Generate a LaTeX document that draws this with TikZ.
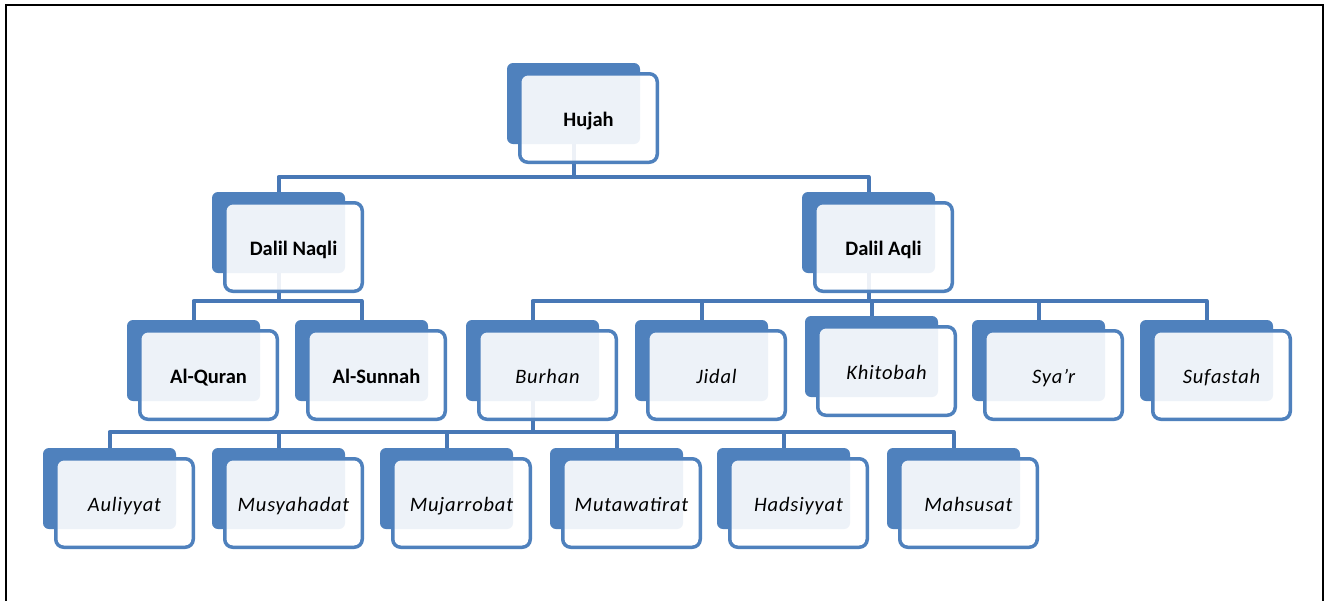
\documentclass[tikz,border=0pt]{standalone}
\usepackage{fontspec}
\setmainfont{Carlito}
\usetikzlibrary{calc}
\definecolor{sablue}{RGB}{79,129,189}
\definecolor{connblue}{RGB}{72,120,182}
\pgfdeclarelayer{bg}
\pgfsetlayers{bg,main}
\tikzset{
  backbox/.style={rectangle, rounded corners=6pt, fill=sablue, minimum width=133pt, minimum height=81pt, inner sep=0pt},
  frontbox/.style={rectangle, rounded corners=8pt, draw=sablue, line width=3.5pt, fill=white, fill opacity=0.9, text opacity=1, minimum width=137.5pt, minimum height=88.5pt, inner sep=0pt, text height=20pt, text depth=3pt, font=\fontsize{20}{24}\selectfont},
  strong/.style={font=\fontsize{20.5}{24}\selectfont\bfseries},
  slant/.style={font=\fontsize{20.5}{24}\selectfont\itshape\addfontfeature{LetterSpace=4}},
  conn/.style={draw=connblue, line width=4pt, line join=round},
  frame/.style={draw=black, line width=2pt}
}
\newcommand\mkunit[5]{%
  \node[backbox] (#1B) at ({#2+66.5},{#3+40.5}) {};
  \node[frontbox,#5] (#1) at ({#2+81.5},{#3+55}) {#4};
}
\begin{document}
\begin{tikzpicture}[x=1pt,y=-1pt]
\useasboundingbox (0,0) rectangle (1324,600);
\draw[frame] (6,601) -- (6,5) -- (1323,5) -- (1323,601);

% row 1
\mkunit{hujah}{507}{63}{Hujah}{strong}
% row 2
\mkunit{naqli}{212}{192}{Dalil Naqli}{strong}
\mkunit{aqli}{802}{192}{Dalil Aqli}{strong}
% row 3
\mkunit{quran}{127}{320}{Al-Quran}{strong}
\mkunit{sunnah}{295}{320}{Al-Sunnah}{strong}
\mkunit{burhan}{466}{320}{Burhan}{slant}
\mkunit{jidal}{635}{320}{Jidal}{slant}
\mkunit{khitobah}{805}{316}{Khitobah}{slant}
\mkunit{syar}{972}{320}{Sya'r}{slant}
\mkunit{sufastah}{1140}{320}{Sufastah}{slant}
% row 4
\mkunit{auliyyat}{43}{448}{Auliyyat}{slant}
\mkunit{musyahadat}{212}{448}{Musyahadat}{slant}
\mkunit{mujarrobat}{380}{448}{Mujarrobat}{slant}
\mkunit{mutawatirat}{550}{448}{Mutawatirat}{slant}
\mkunit{hadsiyyat}{717}{448}{Hadsiyyat}{slant}
\mkunit{mahsusat}{887}{448}{Mahsusat}{slant}

\coordinate (bus1) at (573.5,177);
\coordinate (bus2) at (278.5,301);
\coordinate (bus3) at (868.5,301);
\coordinate (bus4) at (532.5,432);

\begin{pgfonlayer}{bg}
  \fill[white] (0,0) rectangle (1324,600);
  \draw[conn] (hujahB.south) -- (hujahB.south |- bus1);
  \draw[conn] (naqliB.north) |- (bus1) -| (aqliB.north);

  \draw[conn] (naqliB.south) -- (naqliB.south |- bus2);
  \draw[conn] (quranB.north) |- (bus2) -| (sunnahB.north);

  \draw[conn] (aqliB.south) -- (aqliB.south |- bus3);
  \draw[conn] (burhanB.north) |- (bus3) -| (sufastahB.north);
  \draw[conn] (jidalB.north) -- (jidalB.north |- bus3);
  \draw[conn] (khitobahB.north) -- (khitobahB.north |- bus3);
  \draw[conn] (syarB.north) -- (syarB.north |- bus3);

  \draw[conn] (burhanB.south) -- (burhanB.south |- bus4);
  \draw[conn] (auliyyatB.north) |- (bus4) -| (mahsusatB.north);
  \draw[conn] (musyahadatB.north) -- (musyahadatB.north |- bus4);
  \draw[conn] (mujarrobatB.north) -- (mujarrobatB.north |- bus4);
  \draw[conn] (mutawatiratB.north) -- (mutawatiratB.north |- bus4);
  \draw[conn] (hadsiyyatB.north) -- (hadsiyyatB.north |- bus4);
\end{pgfonlayer}
\end{tikzpicture}
\end{document}
